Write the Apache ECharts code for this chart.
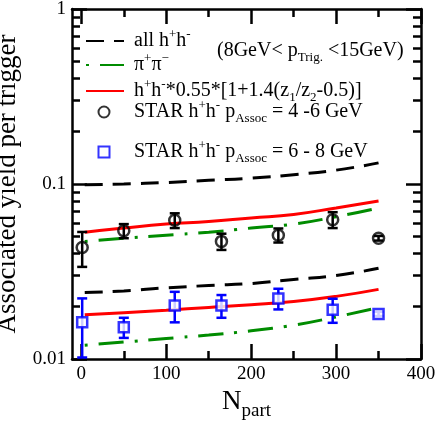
<!DOCTYPE html>
<html>
<head>
<meta charset="utf-8">
<script src="https://cdn.jsdelivr.net/npm/echarts@6/dist/echarts.min.js"></script>
<style>
html,body{margin:0;padding:0;background:#fff;}
#c{width:441px;height:421px;}
</style>
</head>
<body>
<div id="c"></div>
<script>
// ---- data ----
const npartCurve = [4, 50, 100, 150, 200, 250, 300, 350];
const allHH46   = [0.099, 0.100, 0.102, 0.105, 0.108, 0.113, 0.120, 0.132];
const scaled46  = [0.053, 0.056, 0.059, 0.061, 0.064, 0.067, 0.073, 0.080];
const pipi46    = [0.047, 0.049, 0.051, 0.053, 0.056, 0.059, 0.065, 0.073];
const allHH68   = [0.024, 0.0245, 0.0255, 0.0263, 0.027, 0.0285, 0.030, 0.033];
const scaled68  = [0.0179, 0.0184, 0.019, 0.0197, 0.0204, 0.0213, 0.0228, 0.025];
const pipi68    = [0.012, 0.0125, 0.0131, 0.0137, 0.0145, 0.0156, 0.0174, 0.0197];

const npartStar = [1, 50, 110, 165, 232, 296, 350];
const star46    = [0.0434, 0.054, 0.062, 0.047, 0.051, 0.0625, 0.049];
const star46Err = [0.0098, 0.005, 0.006, 0.005, 0.0047, 0.0065, 0.0015];
const star68    = [0.0162, 0.0152, 0.0202, 0.0202, 0.0222, 0.0191, 0.0181];
const star68Err = [0.006, 0.002, 0.004, 0.003, 0.003, 0.003, 0.0005];

const xMajorTicks = [0, 100, 200, 300, 400];
const xMinorTicks = [50, 150, 250, 350];
const yMinorTicks = [0.02,0.03,0.04,0.05,0.06,0.07,0.08,0.09,0.2,0.3,0.4,0.5,0.6,0.7,0.8,0.9];

const legendText = {
  allhh: 'all h{sup|+}h{sup|-}',
  pipi: 'π{sup|+}π{sup|−}',
  scaled: 'h{sup|+}h{sup|-}*0.55*[1+1.4(z{sub|1}/z{sub|2}-0.5)]',
  star46: 'STAR h{sup|+}h{sup|-} p{sub|Assoc} = 4 -6 GeV',
  star68: 'STAR h{sup|+}h{sup|-} p{sub|Assoc} = 6 - 8 GeV'
};

// ---- helpers ----
const FONT = 'Liberation Serif';
const pair = (xs, ys) => xs.map((x, i) => [x, ys[i]]);
const triple = (xs, ys, es) => xs.map((x, i) => [x, ys[i], es[i]]);
const rich = {
  sup: {fontSize: 13, fontFamily: FONT, color: '#000', padding: [0, 0, 13, 0]},
  sub: {fontSize: 13, fontFamily: FONT, color: '#000', padding: [13, 0, 0, 0]}
};

const black = '#000000', green = '#008c00', red = '#ff0000', blue = '#0000ff';
const dashBlack = [18, 10];
const dashGreen = [3, 11, 25, 11];

function lineSeries(name, ys, color, type) {
  return {
    name: name, type: 'line', data: pair(npartCurve, ys),
    symbol: 'none', smooth: true, z: 3,
    lineStyle: {color: color, width: 3, type: type},
    itemStyle: {color: color}
  };
}

function errSeries(name, ys, es, color) {
  return {
    name: name, type: 'custom', z: 4,
    data: triple(npartStar, ys, es),
    renderItem: function (params, api) {
      const x = api.value(0), y = api.value(1), e = api.value(2);
      const lo = Math.max(y - e, 0.0001);
      const pTop = api.coord([x, y + e]);
      const pBot = api.coord([x, lo]);
      const w = 5;
      const st = {stroke: color, lineWidth: 2.5};
      return {
        type: 'group', children: [
          {type: 'line', shape: {x1: pTop[0], y1: pTop[1], x2: pBot[0], y2: pBot[1]}, style: st},
          {type: 'line', shape: {x1: pTop[0]-w, y1: pTop[1], x2: pTop[0]+w, y2: pTop[1]}, style: st},
          {type: 'line', shape: {x1: pBot[0]-w, y1: pBot[1], x2: pBot[0]+w, y2: pBot[1]}, style: st}
        ]
      };
    }
  };
}

function legendAt(name, top, isLine) {
  const l = {
    data: [name], top: top, orient: 'vertical', padding: 0,
    itemHeight: 11, selectedMode: false,
    formatter: n => legendText[n],
    textStyle: {fontFamily: FONT, fontSize: 20, color: '#000', rich: rich}
  };
  if (isLine) {
    l.left = 85; l.itemWidth = 38;
    l.itemStyle = {opacity: 0};
    l.textStyle.padding = [0, 0, 0, 5];
  } else {
    l.left = 97.5; l.itemWidth = 11;
    l.textStyle.padding = [0, 0, 0, 19.5];
  }
  return l;
}

const axisLineStyle = {color: '#000', width: 2.5};
function xAx(pos, ticks, len, showLine, showLabel) {
  return {
    type: 'value', position: pos, min: -11, max: 400,
    axisLine: {show: showLine, onZero: false, lineStyle: axisLineStyle},
    axisTick: {show: true, inside: true, length: len, customValues: ticks, lineStyle: {color: '#000', width: 2.5}},
    axisLabel: {show: showLabel, customValues: ticks, fontFamily: FONT, fontSize: 19, color: '#000', margin: 6},
    splitLine: {show: false}
  };
}
function yAx(pos, ticks, len, showLine, showLabel) {
  const a = {
    type: 'log', logBase: 10, position: pos, min: 0.01, max: 1,
    axisLine: {show: showLine, onZero: false, lineStyle: axisLineStyle},
    axisTick: {show: true, inside: true, length: len, lineStyle: {color: '#000', width: 2.5}},
    axisLabel: {show: showLabel, fontFamily: FONT, fontSize: 19, color: '#000', margin: 6,
      formatter: v => String(Number(Number(v).toPrecision(3)))},
    splitLine: {show: false}, minorTick: {show: false}
  };
  if (ticks) a.axisTick.customValues = ticks;
  return a;
}

const xAxes = [
  xAx('bottom', xMajorTicks, 15, true, true),
  xAx('bottom', xMinorTicks, 8, false, false),
  xAx('top', xMajorTicks, 15, true, false),
  xAx('top', xMinorTicks, 8, false, false)
];
xAxes[0].name = 'N{sub|part}';
xAxes[0].nameLocation = 'middle';
xAxes[0].nameGap = 16;
xAxes[0].nameTextStyle = {fontFamily: FONT, fontSize: 27, color: '#000',
  rich: {sub: {fontFamily: FONT, fontSize: 19, color: '#000', padding: [18, 0, 0, 0]}}};

const yAxes = [
  yAx('left', null, 15, true, true),
  yAx('left', yMinorTicks, 8, false, false),
  yAx('right', null, 15, true, false),
  yAx('right', yMinorTicks, 8, false, false)
];
yAxes[0].name = 'Associated yield per trigger';
yAxes[0].nameLocation = 'middle';
yAxes[0].nameGap = 40;
yAxes[0].nameTextStyle = {fontFamily: FONT, fontSize: 27, color: '#000'};

const chart = echarts.init(document.getElementById('c'), null, {renderer: 'canvas'});
chart.setOption({
  animation: false,
  backgroundColor: '#fff',
  grid: {left: 72, right: 20, top: 9, bottom: 62, containLabel: false, outerBoundsMode: 'none'},
  xAxis: xAxes,
  yAxis: yAxes,
  legend: [
    legendAt('allhh', 28, true),
    legendAt('pipi', 52, true),
    legendAt('scaled', 78, true),
    legendAt('star46', 99, false),
    legendAt('star68', 139, false)
  ],
  graphic: [{
    type: 'text', left: 217, top: 41, z: 10,
    style: {text: '(8GeV< p{sub|Trig.} <15GeV)', font: '20px "Liberation Serif"', fill: '#000',
      rich: {sub: {fontSize: 13, fontFamily: FONT, fill: '#000', padding: [13, 0, 0, 0]}}}
  }],
  series: [
    lineSeries('allhh', allHH46, black, dashBlack),
    lineSeries('pipi', pipi46, green, dashGreen),
    lineSeries('scaled', scaled46, red, 'solid'),
    lineSeries('allhh', allHH68, black, dashBlack),
    lineSeries('pipi', pipi68, green, dashGreen),
    lineSeries('scaled', scaled68, red, 'solid'),
    {
      name: 'star46', type: 'scatter', z: 5, data: pair(npartStar, star46),
      symbol: 'circle', symbolSize: 11,
      itemStyle: {color: 'rgba(0,0,0,0)', borderColor: black, borderWidth: 2.5}
    },
    {
      name: 'star68', type: 'scatter', z: 6, data: pair(npartStar, star68),
      symbol: 'rect', symbolSize: 10,
      itemStyle: {color: '#fff', borderColor: blue, borderWidth: 2.5}
    },
    errSeries('err46', star46, star46Err, black),
    errSeries('err68', star68, star68Err, blue)
  ]
});
</script>
</body>
</html>
